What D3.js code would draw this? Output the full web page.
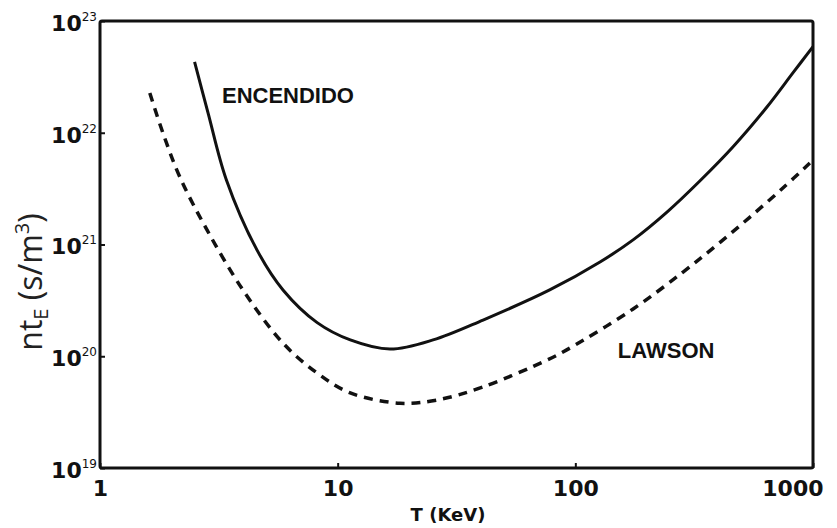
<!DOCTYPE html>
<html>
<head>
<meta charset="utf-8">
<script src="https://cdn.jsdelivr.net/npm/d3@7"></script>
<style>
  html, body { margin: 0; padding: 0; background: #fff; }
  svg { display: block; }
</style>
</head>
<body>
<svg id="chart" width="837" height="528"></svg>
<script>
// ---- data ----
const xTicks = [1, 10, 100, 1000];
const xTickLabels = ["1", "10", "100", "1000"];
const yTicks = [1e19, 1e20, 1e21, 1e22, 1e23];
const yTickExponents = ["19", "20", "21", "22", "23"];

const encendidoT  = [2.5, 2.85, 3.4, 4.58, 5.9, 8.2, 11.3, 16.6, 25.2, 40.9, 78, 127, 175, 243, 334, 460, 640, 823, 1000];
const encendidoNt = [4.3e22, 1.5e22, 3.8e21, 8.9e20, 3.9e20, 2.0e20, 1.4e20, 1.16e20, 1.4e20, 2.11e20, 3.92e20, 6.97e20, 1.1e21, 1.95e21, 3.7e21, 7.46e21, 1.7e22, 3.43e22, 5.9e22];

const lawsonT  = [1.62, 1.84, 2.17, 2.82, 4.0, 5.89, 8.18, 11.3, 18.3, 26.2, 40.8, 76, 92, 175, 284, 394, 543, 747, 970];
const lawsonNt = [2.27e22, 9.95e21, 4.0e21, 1.35e21, 3.9e20, 1.31e20, 7.1e19, 4.7e19, 3.8e19, 4.06e19, 5.3e19, 9.25e19, 1.14e20, 2.65e20, 5.67e20, 9.9e20, 1.76e21, 3.2e21, 5.36e21];

const curveLabels = ["ENCENDIDO", "LAWSON"];
const curveLabelT = [3.26, 151];
const curveLabelNt = [1.85e22, 9.6e19];

const xTitle = "T (KeV)";

// ---- layout ----
const W = 837, H = 528;
const margin = { left: 100, right: 24, top: 21, bottom: 60 };
const svg = d3.select("#chart");

const x = d3.scaleLog().domain([1, 1000]).range([margin.left, W - margin.right]);
const y = d3.scaleLog().domain([1e19, 1e23]).range([H - margin.bottom, margin.top]);

// axes
const xAxis = d3.axisBottom(x).tickValues(xTicks).tickSize(-5).tickPadding(12)
  .tickFormat((d, i) => xTickLabels[i]);
const gx = svg.append("g").attr("transform", `translate(0,${H - margin.bottom})`).call(xAxis);
gx.select(".domain").remove();
gx.selectAll(".tick line").attr("stroke", "#111").attr("stroke-width", 2);
gx.selectAll(".tick text")
  .attr("font-family", "'DejaVu Sans', sans-serif").attr("font-weight", "bold")
  .attr("font-size", 22).attr("fill", "#111")
  .attr("text-anchor", (d, i) => i === xTicks.length - 1 ? "end" : "middle")
  .attr("dx", (d, i) => i === xTicks.length - 1 ? 10 : 0);

const yAxis = d3.axisLeft(y).tickValues(yTicks).tickSize(-5).tickPadding(3)
  .tickFormat(() => "10");
const gy = svg.append("g").attr("transform", `translate(${margin.left},0)`).call(yAxis);
gy.select(".domain").remove();
gy.selectAll(".tick line").attr("stroke", "#111").attr("stroke-width", 2);
gy.selectAll(".tick text")
  .attr("font-family", "'DejaVu Sans', sans-serif").attr("font-weight", "bold")
  .attr("font-size", 22).attr("fill", "#111").attr("dy", "0.42em")
  .each(function(d, i) {
    d3.select(this).append("tspan")
      .attr("font-size", 12).attr("font-weight", "normal").attr("dy", -10)
      .text(yTickExponents[i]);
  });

// frame
svg.append("rect")
  .attr("x", margin.left).attr("y", margin.top)
  .attr("width", W - margin.left - margin.right)
  .attr("height", H - margin.top - margin.bottom)
  .attr("rx", 2)
  .attr("fill", "none").attr("stroke", "#111").attr("stroke-width", 3);

// curves
const line = d3.line().x(d => x(d[0])).y(d => y(d[1])).curve(d3.curveCatmullRom.alpha(0.5));

svg.append("path")
  .datum(encendidoT.map((t, i) => [t, encendidoNt[i]]))
  .attr("d", line).attr("fill", "none").attr("stroke", "#111").attr("stroke-width", 3);

svg.append("path")
  .datum(lawsonT.map((t, i) => [t, lawsonNt[i]]))
  .attr("d", line).attr("fill", "none").attr("stroke", "#111").attr("stroke-width", 3.5)
  .attr("stroke-dasharray", "9,7");

// curve labels
svg.selectAll(".clabel").data(curveLabels).enter().append("text")
  .attr("class", "clabel")
  .attr("x", (d, i) => x(curveLabelT[i]))
  .attr("y", (d, i) => y(curveLabelNt[i]))
  .attr("font-family", "'Liberation Sans', Arial, sans-serif").attr("font-weight", "bold")
  .attr("font-size", 22).attr("fill", "#111")
  .text(d => d);

// x title
svg.append("text")
  .attr("x", 448).attr("y", 521).attr("text-anchor", "middle")
  .attr("font-family", "'DejaVu Sans', sans-serif").attr("font-weight", "bold")
  .attr("font-size", 18).attr("fill", "#111")
  .text(xTitle);

// y title: nt_E (s/m^3)
const yt = svg.append("text")
  .attr("transform", "translate(42,282) rotate(-90)")
  .attr("text-anchor", "middle")
  .attr("font-family", "'Open Sans', sans-serif")
  .attr("font-size", 32).attr("fill", "#222");
yt.append("tspan").text("nt");
yt.append("tspan").attr("font-size", 20).attr("dy", 6).text("E");
yt.append("tspan").attr("dy", -6).text(" (s/m");
yt.append("tspan").attr("font-size", 20).attr("dy", -13).text("3");
yt.append("tspan").attr("dy", 13).text(")");
</script>
</body>
</html>
